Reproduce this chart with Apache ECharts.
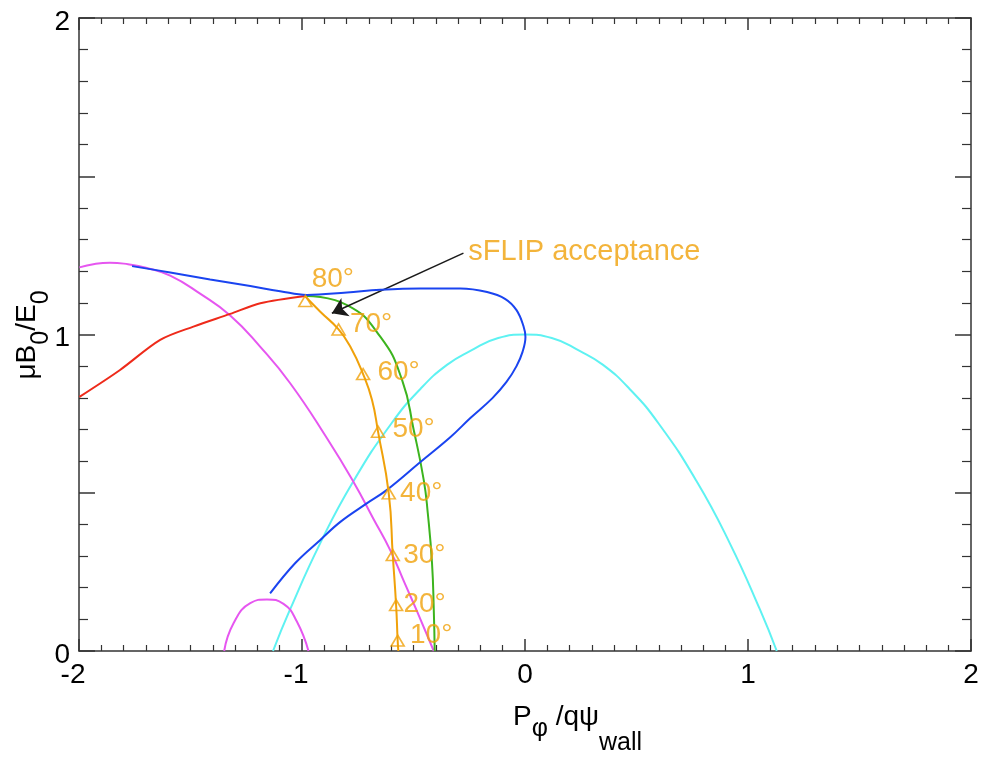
<!DOCTYPE html>
<html>
<head>
<meta charset="utf-8">
<script src="https://cdn.jsdelivr.net/npm/echarts@6/dist/echarts.min.js"></script>
<style>html,body{margin:0;padding:0;background:#fff}#c{width:984px;height:760px}</style>
</head>
<body>
<div id="c"></div>
<script>
// ---- data ----
const xTicks = [-2, -1, 0, 1, 2];
const yTicks = [0, 1, 2];

const redX = [-1.998, -1.816, -1.636, -1.487, -1.322, -1.187, -0.985];
const redY = [0.803, 0.888, 0.983, 1.025, 1.065, 1.099, 1.122];

const blueX = [-1.762, -1.591, -1.412, -1.232, -1.098, -0.978, -0.798, -0.649, -0.469, -0.290, -0.170, -0.088, -0.038, -0.007, 0.002, -0.011, -0.038, -0.083, -0.146, -0.245, -0.334, -0.469, -0.619, -0.708, -0.828, -0.918, -1.030, -1.143];
const blueY = [1.216, 1.196, 1.174, 1.153, 1.137, 1.125, 1.133, 1.141, 1.145, 1.145, 1.134, 1.112, 1.077, 1.027, 0.992, 0.945, 0.900, 0.850, 0.799, 0.736, 0.676, 0.597, 0.509, 0.467, 0.408, 0.351, 0.278, 0.182];

const magentaX = [-1.998, -1.930, -1.861, -1.780, -1.700, -1.591, -1.457, -1.322, -1.187, -1.053, -0.888, -0.769, -0.680, -0.604, -0.540, -0.484, -0.409];
const magentaY = [1.212, 1.223, 1.227, 1.222, 1.211, 1.186, 1.129, 1.060, 0.961, 0.846, 0.672, 0.534, 0.418, 0.318, 0.215, 0.125, 0.0];

const smallMagX = [-1.349, -1.307, -1.232, -1.157, -1.083, -1.023, -0.971];
const smallMagY = [0, 0.0875, 0.151, 0.163, 0.149, 0.093, 0];

const cyanX = [-1.130, -1.053, -0.918, -0.769, -0.600, -0.469, -0.350, -0.245, -0.120, 0.0, 0.120, 0.245, 0.350, 0.469, 0.600, 0.769, 0.918, 1.053, 1.129];
const cyanY = [0, 0.132, 0.341, 0.537, 0.718, 0.828, 0.904, 0.948, 0.989, 1.0, 0.989, 0.948, 0.904, 0.828, 0.718, 0.537, 0.341, 0.132, 0];

const greenX = [-0.978, -0.798, -0.649, -0.551, -0.499, -0.454, -0.436, -0.417, -0.409, -0.405];
const greenY = [1.122, 1.093, 0.993, 0.856, 0.698, 0.540, 0.436, 0.278, 0.129, 0];

const orangeX = [-0.985, -0.918, -0.836, -0.783, -0.726, -0.686, -0.659, -0.611, -0.593, -0.578, -0.571, -0.568];
const orangeY = [1.120, 1.072, 1.016, 0.961, 0.875, 0.793, 0.693, 0.498, 0.303, 0.145, 0.033, 0];

const angX = [-0.985, -0.836, -0.726, -0.659, -0.611, -0.593, -0.578, -0.571];
const angY = [1.106, 1.016, 0.875, 0.693, 0.498, 0.303, 0.145, 0.033];
const angLabels = ['80°', '70°', '60°', '50°', '40°', '30°', '20°', '10°'];

const annotText = 'sFLIP acceptance';
const annotFrom = [-0.276, 1.257];
const annotTo = [-0.866, 1.067];
const annotTextAt = [-0.254, 1.261];

// ---- build ----
const zip = (xs, ys) => xs.map((x, i) => [x, ys[i]]);
const FONT = '"Liberation Sans", Arial, Helvetica, sans-serif';
const ORANGE = '#f0a10a';
const labelOffsets = [[-1, -22], [4, -5], [7, -2], [7, -2], [4, 0], [3, 0], [0, -1], [5, -5]];

const axisColor = '#333';
function xAx(pos, showLabel) {
  return {
    type: 'value', position: pos, min: -2, max: 2, interval: 1,
    axisLine: { show: true, onZero: false, lineStyle: { color: axisColor, width: 1.5 } },
    axisTick: { show: true, inside: true, length: 12, lineStyle: { color: axisColor, width: 1.5 } },
    minorTick: { show: true, splitNumber: 10, length: 6, lineStyle: { color: axisColor, width: 1.2 } },
    splitLine: { show: false }, minorSplitLine: { show: false },
    axisLabel: { show: showLabel, color: '#000', fontSize: 28, fontFamily: FONT, margin: 10,
      formatter: v => (xTicks.includes(v) ? (v < 0 ? '{n|' + v + '}' : String(v)) : ''),
      rich: { n: { fontSize: 28, fontFamily: FONT, color: '#000', padding: [0, 12, 0, 0] } } }
  };
}
function yAx(pos, showLabel) {
  return {
    type: 'value', position: pos, min: 0, max: 2, interval: 0.5,
    axisLine: { show: true, onZero: false, lineStyle: { color: axisColor, width: 1.5 } },
    axisTick: { show: true, inside: true, length: 16, lineStyle: { color: axisColor, width: 1.5 } },
    minorTick: { show: true, splitNumber: 5, length: 9, lineStyle: { color: axisColor, width: 1.2 } },
    splitLine: { show: false }, minorSplitLine: { show: false },
    axisLabel: { show: showLabel, color: '#000', fontSize: 28, fontFamily: FONT, margin: 9,
      formatter: v => (yTicks.includes(v) ? '{v|' + v + '}' : ''),
      rich: { v: { fontSize: 28, fontFamily: FONT, color: '#000', lineHeight: 36, verticalAlign: 'bottom' } } }
  };
}
function lineSeries(xs, ys, color, z, smooth) {
  return { type: 'line', data: zip(xs, ys), showSymbol: false, symbol: 'none', smooth: smooth,
    lineStyle: { color: color, width: 2 }, z: z, animation: false, silent: true };
}

const chart = echarts.init(document.getElementById('c'), null, { renderer: 'canvas' });
chart.setOption({
  animation: false,
  backgroundColor: '#fff',
  grid: { left: 79, top: 18, right: 13, bottom: 109, containLabel: false, outerBoundsMode: 'none' },
  xAxis: [xAx('bottom', true), xAx('top', false)],
  yAxis: [yAx('left', true), yAx('right', false)],
  series: [
    lineSeries(cyanX, cyanY, '#5ef2f2', 2, 0.5),
    lineSeries(magentaX, magentaY, '#e656f0', 3, 0.5),
    lineSeries(smallMagX, smallMagY, '#e656f0', 3, 0.5),
    lineSeries(redX, redY, '#ee2a1a', 4, 0.3),
    lineSeries(greenX, greenY, '#3cb41e', 4, 0.5),
    lineSeries(blueX, blueY, '#1a44f0', 5, 0.4),
    lineSeries(orangeX, orangeY, ORANGE, 6, 0.5),
    {
      type: 'scatter', z: 7, silent: true,
      symbol: 'triangle', symbolSize: [13, 11],
      itemStyle: { color: 'rgba(0,0,0,0)', borderColor: ORANGE, borderWidth: 1.6 },
      data: angX.map((x, i) => ({
        value: [x, angY[i]],
        label: { show: true, formatter: angLabels[i], position: 'right', distance: 0, offset: labelOffsets[i],
          color: ORANGE, fontSize: 28, fontFamily: FONT }
      })),
      markLine: {
        silent: true, symbol: ['none', 'arrow'], symbolSize: 15, animation: false,
        lineStyle: { color: '#1a1a1a', width: 1.5, type: 'solid' },
        label: { show: false },
        emphasis: { disabled: true },
        data: [[{ coord: annotFrom }, { coord: annotTo }]]
      }
    },
    {
      type: 'scatter', z: 8, silent: true, symbolSize: 0,
      data: [{ value: annotTextAt, label: { show: true, formatter: annotText, position: 'right', distance: 0,
        color: ORANGE, fontSize: 29, fontFamily: FONT } }]
    }
  ],
  graphic: [
    {
      type: 'text', left: 513, top: 703, silent: true,
      style: {
        text: '{a|P}{s|φ}{a| /qψ}{w|wall}',
        rich: {
          a: { fontSize: 28, fontFamily: FONT, fill: '#000', lineHeight: 60, verticalAlign: 'top' },
          s: { fontSize: 25, fontFamily: FONT, fill: '#000', lineHeight: 60, verticalAlign: 'top', padding: [14, 0, 0, 0] },
          w: { fontSize: 25, fontFamily: FONT, fill: '#000', lineHeight: 60, verticalAlign: 'top', padding: [28, 0, 0, 0] }
        }
      }
    },
    {
      type: 'text', x: 13, y: 335, rotation: Math.PI / 2, silent: true,
      style: {
        text: '{a|μB}{s|0}{a|/E}{s|0}',
        align: 'center', verticalAlign: 'top',
        rich: {
          a: { fontSize: 28, fontFamily: FONT, fill: '#000', lineHeight: 41, verticalAlign: 'top' },
          s: { fontSize: 25, fontFamily: FONT, fill: '#000', lineHeight: 41, verticalAlign: 'bottom' }
        }
      }
    }
  ]
});
</script>
</body>
</html>
